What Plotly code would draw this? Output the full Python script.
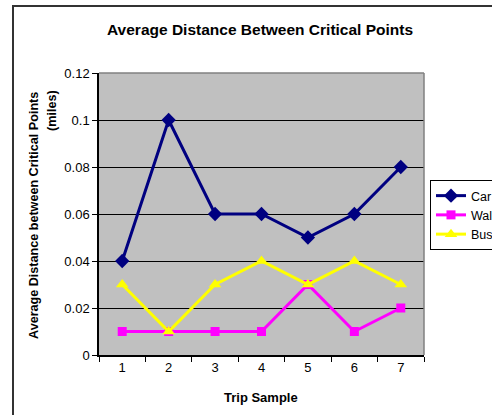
import plotly.graph_objects as go

trips = ["1", "2", "3", "4", "5", "6", "7"]
car = [0.04, 0.10, 0.06, 0.06, 0.05, 0.06, 0.08]
walk = [0.01, 0.01, 0.01, 0.01, 0.03, 0.01, 0.02]
bus = [0.03, 0.01, 0.03, 0.04, 0.03, 0.04, 0.03]
y_ticks = [0, 0.02, 0.04, 0.06, 0.08, 0.1, 0.12]
y_labels = ["0", "0.02", "0.04", "0.06", "0.08", "0.1", "0.12"]

W, H = 492, 415
L, R, T, B = 99, 424, 73, 355

def px(x):
    return (x - L) / (R - L)

def py(y):
    return (B - y) / (B - T)

fig = go.Figure()
fig.add_trace(go.Scatter(x=trips, y=car, name="Car", mode="lines+markers",
                         line=dict(color="#000080", width=3),
                         marker=dict(symbol="diamond", size=11, color="#000080")))
fig.add_trace(go.Scatter(x=trips, y=walk, name="Walk", mode="lines+markers",
                         line=dict(color="#FF00FF", width=3),
                         marker=dict(symbol="square", size=9, color="#FF00FF")))
fig.add_trace(go.Scatter(x=trips, y=bus, name="Bus", mode="lines+markers",
                         line=dict(color="#FFFF00", width=3),
                         marker=dict(symbol="triangle-up", size=11, color="#FFFF00")))

fig.update_layout(
    width=W, height=H,
    margin=dict(l=L, r=W - R, t=T, b=H - B, autoexpand=False),
    paper_bgcolor="white",
    plot_bgcolor="#C0C0C0",
    font=dict(family="Arial, Liberation Sans, sans-serif", size=12, color="black"),
    showlegend=True,
    legend=dict(x=px(430), y=py(180), xanchor="left", yanchor="top",
                bgcolor="white", bordercolor="black", borderwidth=1,
                font=dict(size=12.5), tracegroupgap=0, itemwidth=30),
    xaxis=dict(type="category", range=[-0.5, 6.5], tickson="boundaries",
               ticks="outside", ticklen=5, tickcolor="black",
               showline=True, linecolor="black", linewidth=1.5,
               showgrid=False, zeroline=False, mirror=False,
               tickfont=dict(size=13)),
    yaxis=dict(range=[0, 0.12], tickvals=y_ticks, ticktext=y_labels,
               ticks="outside", ticklen=5, tickcolor="black",
               showline=True, linecolor="black", linewidth=1.5,
               showgrid=True, gridcolor="black", gridwidth=1,
               zeroline=False, tickfont=dict(size=13)),
    shapes=[
        dict(type="line", xref="paper", yref="paper", x0=0, x1=1, y0=1, y1=1,
             line=dict(color="#808080", width=1.5)),
        dict(type="line", xref="paper", yref="paper", x0=1, x1=1, y0=0, y1=1,
             line=dict(color="#808080", width=1.5)),
        dict(type="rect", xref="paper", yref="paper", x0=px(13), x1=px(520),
             y0=py(440), y1=py(6), line=dict(color="#333333", width=2),
             layer="below"),
    ],
    annotations=[
        dict(text="<b>Average Distance Between Critical Points</b>", xref="paper", yref="paper",
             x=px(260), y=py(30), showarrow=False, font=dict(size=15.5),
             xanchor="center", yanchor="middle"),
        dict(text="<b>Average Distance between Critical Points</b>", xref="paper", yref="paper",
             x=px(34), y=py(216), showarrow=False, textangle=-90, font=dict(size=12.6),
             xanchor="center", yanchor="middle"),
        dict(text="<b>(miles)</b>", xref="paper", yref="paper",
             x=px(52), y=py(111), showarrow=False, textangle=-90, font=dict(size=12.6),
             xanchor="center", yanchor="middle"),
        dict(text="<b>Trip Sample</b>", xref="paper", yref="paper",
             x=px(261), y=py(397), showarrow=False, font=dict(size=13),
             xanchor="center", yanchor="middle"),
    ],
)

fig.write_html("out.html", config={"displayModeBar": False},
               post_script="document.body.style.margin='0';document.body.style.overflow='hidden';")
